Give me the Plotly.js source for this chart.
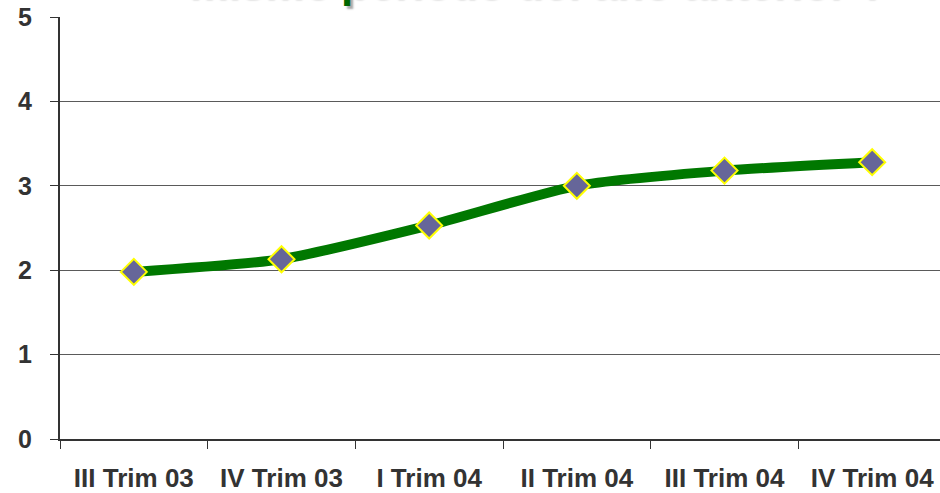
<!DOCTYPE html>
<html>
<head>
<meta charset="utf-8">
<script src="https://cdn.plot.ly/plotly-3.0.1.min.js"></script>
<style>
html,body{margin:0;padding:0;overflow:hidden;background:#fff;}
#chart{width:946px;height:493px;}
</style>
</head>
<body>
<div id="chart"></div>
<script>
const categories = ["III Trim 03","IV Trim 03","I Trim 04","II Trim 04","III Trim 04","IV Trim 04"];
const values = [1.98, 2.13, 2.53, 3.0, 3.18, 3.28];
const yTicks = [0,1,2,3,4,5];
const titleText = "mismo período del año anterior ?";

const trace = {
  x: categories,
  y: values,
  type: "scatter",
  mode: "lines+markers",
  line: {color: "#007800", width: 10, shape: "spline", smoothing: 0.6},
  marker: {symbol: "diamond", size: 20, color: "#666699", line: {color: "#ffff00", width: 2}},
  hoverinfo: "skip"
};

const layout = {
  width: 946, height: 493,
  margin: {l: 60, r: 0, t: 17, b: 54},
  paper_bgcolor: "#ffffff",
  plot_bgcolor: "#ffffff",
  showlegend: false,
  font: {family: "Liberation Sans, Arial, sans-serif", color: "#333333"},
  xaxis: {
    type: "category",
    range: [-0.5, 5.5],
    tickson: "boundaries",
    ticks: "outside",
    ticklen: 8,
    tickcolor: "#333333",
    showgrid: false,
    showline: true,
    linecolor: "#333333",
    linewidth: 2,
    tickfont: {size: 26, color: "#333333", family: "Liberation Sans, Arial, sans-serif", weight: "bold"},
    ticklabelstandoff: 15,
    zeroline: false
  },
  yaxis: {
    range: [0, 5],
    tickvals: yTicks,
    ticktext: yTicks.map(String),
    ticks: "outside",
    ticklen: 8,
    tickcolor: "#333333",
    showgrid: true,
    gridcolor: "#5a5a5a",
    gridwidth: 1,
    showline: true,
    linecolor: "#333333",
    linewidth: 2,
    zeroline: false,
    tickfont: {size: 25, color: "#333333", family: "Liberation Sans, Arial, sans-serif", weight: "bold"},
    ticklabelstandoff: 13
  },
  annotations: [{
    text: titleText,
    xref: "paper", yref: "paper",
    x: 0.537, y: 1, xanchor: "center", yanchor: "bottom",
    yshift: 9,
    showarrow: false,
    font: {size: 44, color: "#006600", family: "Liberation Sans, Arial, sans-serif", weight: "bold", shadow: "3px 3px 2px #aaaaaa"}
  }]
};

Plotly.newPlot("chart", [trace], layout, {displayModeBar: false, staticPlot: true});
</script>
</body>
</html>
